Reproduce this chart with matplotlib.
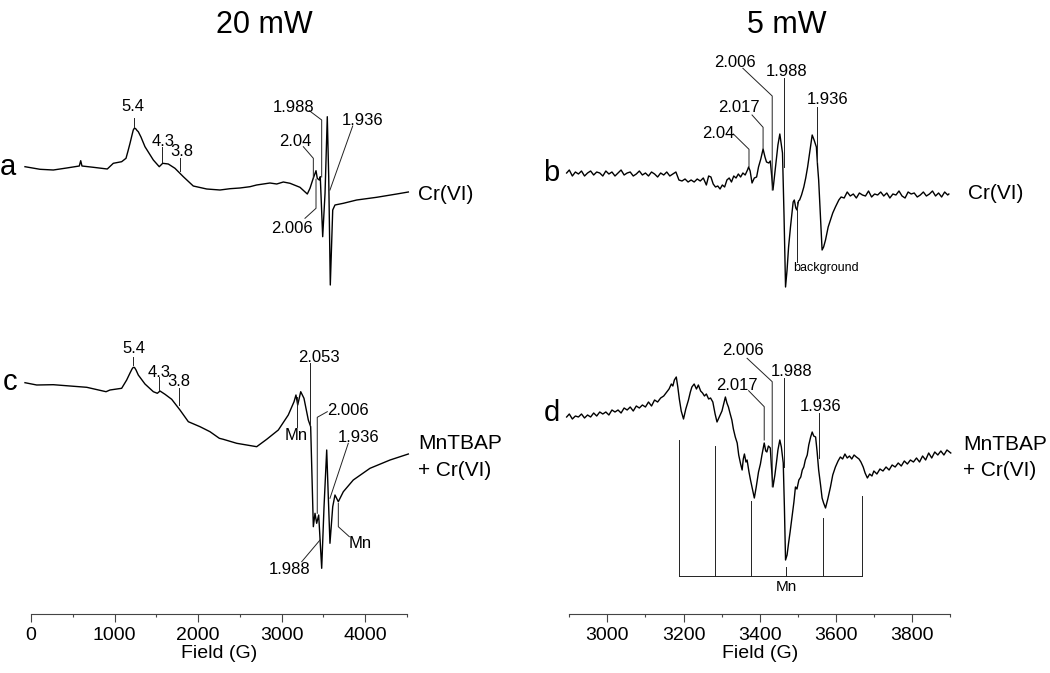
import matplotlib
matplotlib.use("Agg")
import matplotlib.pyplot as plt
from matplotlib.ticker import MultipleLocator

plt.rcParams['font.family'] = ['Liberation Sans', 'DejaVu Sans']

# ---- trace a : 20 mW, Cr(VI) ----
a_field = [-72, 108, 267, 427, 578, 595, 610, 746, 913, 985, 1085, 1137, 1161, 1185, 1209,
           1224, 1236, 1251, 1269, 1284, 1316, 1364, 1464, 1535, 1576, 1643, 1723, 1823, 1942,
           2103, 2262, 2382, 2500, 2621, 2700, 2780, 2860, 2941, 3020, 3100, 3219, 3307, 3339,
           3371, 3411, 3426, 3450, 3462, 3491, 3519, 3546, 3563, 3582, 3611, 3638, 3738, 3898,
           4137, 4377, 4516]
a_int = [3.3, 0.7, 0, 2, 4, 9.3, 4, 2.7, 1, 6.7, 8.3, 11.7, 19, 26.7, 35,
         40, 41.7, 41.5, 39.5, 38.3, 33, 23.3, 10, 3.3, 6.7, 6, 1.7, -6.7, -16,
         -19, -20, -18.7, -18, -16.7, -15, -14, -13, -14, -12, -13.3, -17.3, -24, -18.3,
         -10, -0.7, -8.3, -10, -6.7, -66.7, -23.3, 53.3, -6.7, -115, -40, -35, -33.3, -30,
         -27.3, -24, -22]

# ---- trace c : 20 mW, MnTBAP + Cr(VI) ----
c_field = [-72, 68, 267, 467, 667, 898, 945, 1085, 1145, 1185, 1209, 1224, 1239, 1257, 1284,
           1364, 1464, 1512, 1544, 1604, 1684, 1783, 1883, 2023, 2142, 2254, 2301, 2462, 2701,
           2821, 2960, 3079, 3148, 3171, 3192, 3228, 3267, 3319, 3347, 3379, 3399, 3419, 3443,
           3479, 3507, 3539, 3558, 3578, 3611, 3638, 3678, 3738, 3857, 4057, 4297, 4516]
c_int = [2.3, 0, 0.3, -1, -2.3, -6.7, -5, -3.3, 5, 12, 16, 17.7, 17.5, 15, 10,
         1, -6.7, -8.3, -6, -9.3, -14.3, -25, -36.7, -41.7, -46.7, -53.3, -54.3, -58.3, -61.7,
         -54.3, -45, -30, -16.7, -10, -20, -6.7, -13.3, -35, -41.7, -141.7, -128.3, -138.3, -130,
         -183.3, -121.7, -65, -111.7, -158.3, -121.7, -110, -116.7, -106.7, -95, -83.3, -75, -69]

# ---- trace b : 5 mW, Cr(VI) ----
b_field = [2893, 2900, 2908, 2916, 2924, 2932, 2940, 2948, 2956, 2964, 2972, 2980, 2988, 2996,
           3004, 3012, 3020, 3028, 3036, 3044, 3052, 3060, 3068, 3076, 3084, 3092, 3100, 3108,
           3116, 3124, 3132, 3140, 3148, 3156, 3164, 3172, 3180, 3188, 3196, 3204, 3212, 3220,
           3228, 3236, 3244, 3252, 3260, 3266, 3272, 3278, 3284, 3290, 3296, 3302, 3308, 3314,
           3320, 3326, 3332, 3338, 3344, 3350, 3356, 3362, 3368, 3371, 3375, 3380, 3386, 3392,
           3397, 3403, 3409, 3414, 3418, 3424, 3428, 3435, 3440, 3444, 3448, 3453, 3457, 3460,
           3464, 3468, 3472, 3476, 3481, 3485, 3488, 3491, 3495, 3498, 3502, 3505, 3510, 3516,
           3521, 3526, 3532, 3538, 3543, 3549, 3552, 3555, 3560, 3564, 3568, 3573, 3580, 3586,
           3592, 3599, 3604, 3608, 3614, 3622, 3630, 3638, 3646, 3654, 3662, 3670, 3678, 3686,
           3694, 3702, 3710, 3718, 3726, 3734, 3742, 3750, 3758, 3766, 3774, 3782, 3790, 3798,
           3806, 3814, 3822, 3830, 3838, 3846, 3854, 3862, 3870, 3878, 3886, 3894, 3897]
b_int = [2, 5, -1, 3, 1, 4, -1, 2, 4, 0, 3, 2, -1, 4,
         1, 3, -1, 2, 5, 0, 2, 3, -1, 1, 4, 0, 2, -1,
         3, 1, -2, 2, 0, 3, -1, 1, 3, -5, -6, -4, -7, -5,
         -7, -4, -6, -3, -10, -1, -2, -9, -12, -11, -14, -10, -12, -5,
         -3, -7, -1, -3, 1, -2, 2, 0, 5, 8, 4, -8, -3, -2,
         8, 16, 26, 18, 13, 12, 14, -15, 2, 15, 30, 41, 30, 22,
         -40, -112, -95, -72, -52, -38, -27, -25, -33, -35, -26, -25, -20, -12,
         -3, 8, 24, 40, 35, 28, 10, -5, -45, -75, -72, -65, -52, -45,
         -38, -32, -28, -25, -22, -23, -17, -21, -19, -23, -18, -20, -21, -16,
         -22, -19, -20, -17, -21, -18, -23, -19, -20, -16, -21, -23, -17, -19,
         -18, -22, -20, -17, -21, -19, -16, -21, -18, -22, -17, -20, -19]

# ---- trace d : 5 mW, MnTBAP + Cr(VI) ----
d_field = [2893, 2900, 2908, 2916, 2924, 2932, 2940, 2948, 2956, 2964, 2972, 2980, 2988, 2996,
           3004, 3012, 3020, 3028, 3036, 3044, 3052, 3060, 3068, 3076, 3084, 3092, 3100, 3108,
           3116, 3124, 3132, 3140, 3148, 3156, 3162, 3168, 3172, 3176, 3181, 3185, 3189, 3194,
           3200, 3206, 3213, 3218, 3222, 3228, 3234, 3239, 3245, 3250, 3255, 3260, 3266, 3271,
           3277, 3283, 3288, 3294, 3301, 3306, 3310, 3314, 3318, 3322, 3327, 3331, 3336, 3341,
           3345, 3350, 3354, 3357, 3360, 3364, 3367, 3372, 3376, 3381, 3386, 3391, 3397, 3402,
           3406, 3409, 3412, 3416, 3419, 3423, 3428, 3431, 3435, 3440, 3444, 3448, 3453, 3457,
           3462, 3465, 3468, 3472, 3476, 3480, 3485, 3490, 3494, 3498, 3503, 3508, 3512, 3516,
           3520, 3525, 3529, 3534, 3538, 3542, 3547, 3551, 3555, 3560, 3564, 3568, 3573, 3579,
           3586, 3592, 3599, 3606, 3612, 3618, 3624, 3630, 3636, 3642, 3648, 3654, 3661, 3666,
           3672, 3677, 3683, 3689, 3695, 3700, 3708, 3716, 3724, 3732, 3740, 3748, 3756, 3764,
           3772, 3780, 3788, 3796, 3804, 3812, 3820, 3828, 3836, 3844, 3852, 3860, 3868, 3876,
           3884, 3892, 3902]
d_int = [0, 3, -2, 1, 0, 3, -1, 2, 0, 4, 1, 5, 3, 5,
         2, 7, 5, 7, 4, 9, 7, 10, 6, 11, 9, 12, 10, 15,
         11, 17, 15, 19, 21, 25, 28, 33, 31, 37, 40, 30, 18, 6,
         -2, 8, 17, 25, 30, 33, 28, 32, 26, 24, 21, 23, 18, 19,
         15, 3, -5, 0, 6, 14, 20, 14, 10, 4, -3, -12, -20, -26,
         -38, -47, -53, -42, -37, -45, -43, -55, -63, -72, -81, -70, -55, -47,
         -38, -32, -26, -34, -35, -29, -31, -50, -70, -58, -46, -33, -23, -30,
         -46, -90, -143, -138, -126, -115, -100, -85, -70, -72, -63, -60, -53, -50,
         -43, -38, -28, -20, -15, -19, -20, -35, -53, -68, -81, -86, -91, -82,
         -70, -58, -50, -44, -40, -42, -37, -41, -39, -42, -38, -40, -42, -45,
         -50, -56, -61, -57, -59, -54, -57, -52, -54, -50, -53, -48, -50, -46,
         -49, -44, -47, -43, -45, -41, -45, -39, -43, -36, -41, -35, -38, -34,
         -38, -33, -36]

# Mn hyperfine stick pattern under trace d
mn_field = [3189, 3283, 3376, 3469, 3567, 3670]
mn_top = [-23, -29, -84, -150, -101, -79]
mn_bottom = -159

# vertical offsets of the stacked traces
a_base, c_base, b_base, d_base = 444, 229, 439, 197

# peak labels: (text, x, y, leader xs, leader ys)
a_labels = [("5.4", 1224, 63.3, [1236, 1236], [51.7, 43.3]),
            ("4.3", 1583, 28.3, [1564, 1564], [22.7, 8.3]),
            ("3.8", 1804, 18.3, [1783, 1783], [11.7, -1]),
            ("2.04", 3159, 28.3, [3259, 3379, 3379], [23.3, 11.7, -8.3]),
            ("1.988", 3146, 62.3, [3331, 3479, 3479], [59.3, 50, -7]),
            ("1.936", 3968, 49.5, [3850, 3578], [44, -20]),
            ("2.006", 3120, -58.3, [3279, 3411, 3411], [-48.3, -38.3, -9.3])]
c_labels = [("5.4", 1231, 36.3, [1224, 1224], [28.3, 20]),
            ("4.3", 1534, 12.7, [1536, 1536], [8.3, -5]),
            ("3.8", 1773, 3.3, [1775, 1775], [-3.3, -20]),
            ("Mn", 3169, -51, [3180, 3180], [-11.7, -41.7]),
            ("2.053", 3444, 27.8, [3339, 3339], [21.7, -40]),
            ("2.006", 3797, -25.8, [3546, 3426, 3426], [-26.7, -32.3, -128.3]),
            ("1.936", 3917, -52.5, [3797, 3578], [-58.3, -113.3]),
            ("1.988", 3091, -184.7, [3240, 3459], [-176.7, -155]),
            ("Mn", 3943, -159, [3810, 3678, 3678], [-151.7, -141.7, -118.3])]
b_labels = [("2.04", 3291, 41.7, [3331, 3372, 3372], [41, 25.7, 8.3]),
            ("2.017", 3345, 67.2, [3380, 3409, 3409], [60, 47.7, 26.7]),
            ("2.006", 3336, 112.5, [3356, 3433, 3433], [106.7, 79, -15]),
            ("1.988", 3470, 103.3, [3463, 3463], [96.7, 8.3]),
            ("1.936", 3578, 75, [3551, 3551], [67.7, 13.3])]
d_labels = [("2.006", 3356, 66.2, [3367, 3433, 3433], [58.7, 35.3, -69.7]),
            ("1.988", 3485, 45.3, [3463, 3463], [38.7, -49.7]),
            ("2.017", 3341, 32, [3371, 3412, 3412], [26.3, 10.3, -23]),
            ("1.936", 3561, 10.3, [3555, 3555], [3.7, -41.3])]

fig = plt.figure(figsize=(10.5, 6.73), dpi=100)
ax1 = fig.add_axes([31 / 1050, 59 / 673, 376 / 1050, 614 / 673])
ax2 = fig.add_axes([569.3 / 1050, 59 / 673, 380.7 / 1050, 614 / 673])

for ax in (ax1, ax2):
    ax.set_ylim(0, 614)
    ax.patch.set_alpha(0)
    for s in ("top", "left", "right"):
        ax.spines[s].set_visible(False)
    ax.spines["bottom"].set_linewidth(0.8)
    ax.spines["bottom"].set_color("#444444")
    ax.set_yticks([])
    ax.tick_params(axis="x", which="major", direction="out", length=6, width=0.8,
                   labelsize=14, pad=3, color="#444444")
    ax.tick_params(axis="x", which="minor", direction="out", length=2.5, width=0.8,
                   color="#444444")
    ax.set_xlabel("Field (G)", fontsize=14, labelpad=1)

ax1.set_xlim(0, 4500)
ax1.xaxis.set_major_locator(MultipleLocator(1000))
ax1.xaxis.set_minor_locator(MultipleLocator(500))
ax2.set_xlim(2900, 3900)
ax2.xaxis.set_major_locator(MultipleLocator(200))
ax2.xaxis.set_minor_locator(MultipleLocator(100))

lw = 1.0
ax1.plot(a_field, [v + a_base for v in a_int], color="black", lw=lw, clip_on=False)
ax1.plot(c_field, [v + c_base for v in c_int], color="black", lw=lw, clip_on=False)
ax2.plot(b_field, [v + b_base for v in b_int], color="black", lw=lw, clip_on=False)
ax2.plot(d_field, [v + d_base for v in d_int], color="black", lw=lw, clip_on=False)


def draw_labels(ax, base, labels, size=12):
    for txt, x, y, lx, ly in labels:
        ax.text(x, y + base, txt, fontsize=size, ha="center", va="center", clip_on=False)
        ax.plot(lx, [v + base for v in ly], color="#222222", lw=0.7, clip_on=False)


draw_labels(ax1, a_base, a_labels)
draw_labels(ax1, c_base, c_labels)
draw_labels(ax2, b_base, b_labels)
draw_labels(ax2, d_base, d_labels)

# background marker on b
ax2.plot([3497, 3497], [b_base - 26.7, b_base - 86.7], color="#222222", lw=0.7)
ax2.text(3574, b_base - 93, "background", fontsize=9, ha="center", va="center")

# Mn stick spectrum
for f, t in zip(mn_field, mn_top):
    ax2.plot([f, f], [d_base + t, d_base + mn_bottom], color="#222222", lw=0.7)
ax2.plot([mn_field[0], mn_field[-1]], [d_base + mn_bottom] * 2, color="#222222", lw=0.7)
ax2.text(mn_field[3], d_base - 170, "Mn", fontsize=11, ha="center", va="center")

# trace letters
ax1.text(-272, a_base + 3, "a", fontsize=21, ha="center", va="center", clip_on=False)
ax1.text(-255, c_base + 2.5, "c", fontsize=21, ha="center", va="center", clip_on=False)
ax2.text(2853, b_base + 2, "b", fontsize=21, ha="center", va="center", clip_on=False)
ax2.text(2854, d_base + 4, "d", fontsize=21, ha="center", va="center", clip_on=False)

# sample names
ax1.text(4632, a_base - 25, "Cr(VI)", fontsize=15, ha="left", va="center", clip_on=False)
ax1.text(4632, c_base - 58.3, "MnTBAP", fontsize=15, ha="left", va="center", clip_on=False)
ax1.text(4632, c_base - 85, "+ Cr(VI)", fontsize=15, ha="left", va="center", clip_on=False)
ax2.text(3946, b_base - 18.3, "Cr(VI)", fontsize=15, ha="left", va="center", clip_on=False)
ax2.text(3935, d_base - 28, "MnTBAP", fontsize=15, ha="left", va="center", clip_on=False)
ax2.text(3935, d_base - 53, "+ Cr(VI)", fontsize=15, ha="left", va="center", clip_on=False)

# panel titles
fig.text(264 / 1050, 1 - 33 / 673, "20 mW", fontsize=22, ha="center", va="baseline")
fig.text(787 / 1050, 1 - 33 / 673, "5 mW", fontsize=22, ha="center", va="baseline")

fig.savefig("out.png", dpi=100)
